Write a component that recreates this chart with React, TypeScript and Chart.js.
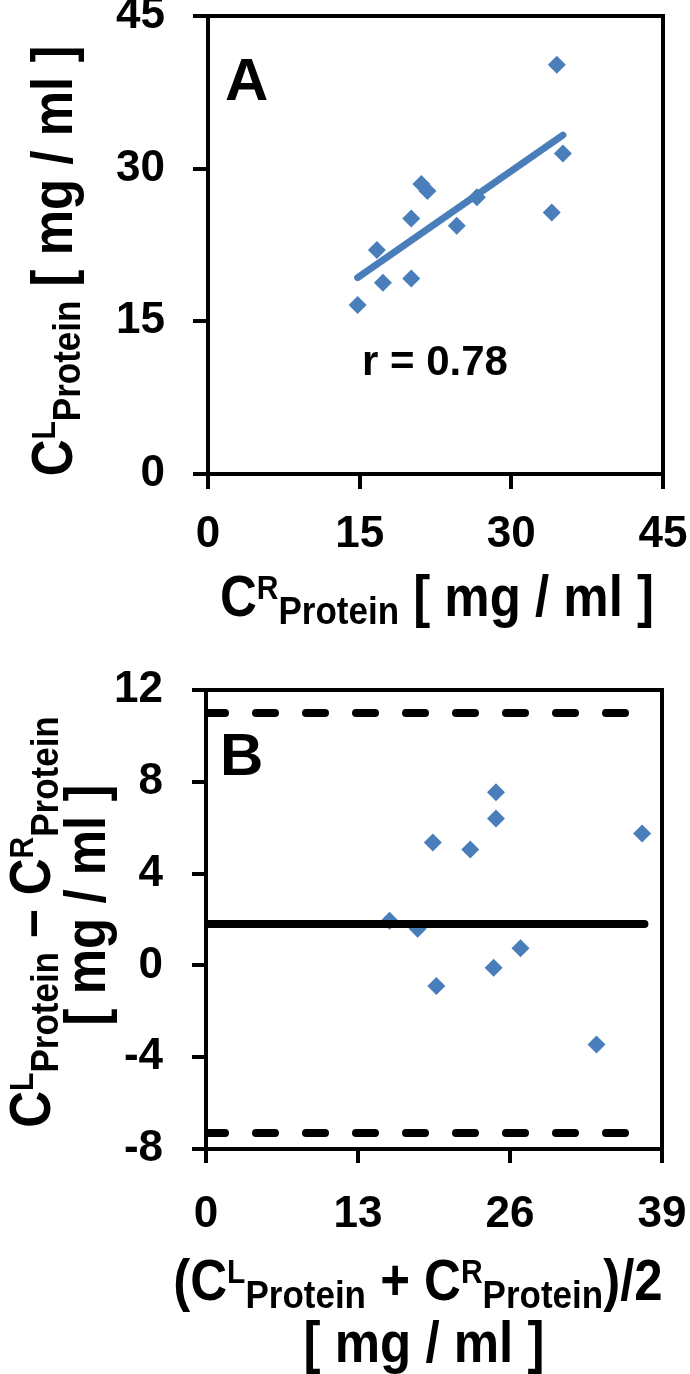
import React, { useEffect, useRef } from 'react';
import { Chart, registerables } from 'chart.js';

Chart.register(...registerables);

const BLUE = '#4A7EBB';
const FONT = '"Liberation Sans", Arial, Helvetica, sans-serif';

// ---------- Panel A data ----------
const crProtein = [14.8, 17.3, 20.1, 16.7, 20.1, 21.1, 21.7, 24.6, 26.6, 34.0, 35.1, 34.5];
const clProtein = [16.6, 18.8, 19.2, 22.0, 25.1, 28.5, 27.8, 24.4, 27.2, 25.7, 31.5, 40.2];
const fitX = [14.8, 35.1];
const fitY = [19.3, 33.3];
const aXTicks = [0, 15, 30, 45];
const aYTicks = [0, 15, 30, 45];
const rLabel = 'r = 0.78';

// ---------- Panel B data ----------
const meanValues = [15.7, 18.1, 19.4, 19.7, 22.6, 24.8, 24.8, 24.6, 26.9, 33.4, 37.3];
const diffValues = [1.95, 1.6, 5.35, -0.9, 5.05, 7.55, 6.4, -0.1, 0.75, -3.45, 5.75];
const biasValue = 1.8;
const upperLoA = 11.0;
const lowerLoA = -7.3;
const refLineX = [0, 37.5];
const bXTicks = [0, 13, 26, 39];
const bYTicks = [-8, -4, 0, 4, 8, 12];

type Seg = { t: string; s: number; dy?: number };

function drawRich(ctx: CanvasRenderingContext2D, segs: Seg[], cx: number, by: number, angle: number, k: number) {
  ctx.save();
  ctx.translate(cx, by);
  ctx.rotate(angle);
  ctx.scale(1, k);
  ctx.fillStyle = '#000';
  ctx.textBaseline = 'alphabetic';
  ctx.textAlign = 'left';
  let w = 0;
  for (const sg of segs) {
    ctx.font = `bold ${sg.s}px ${FONT}`;
    w += ctx.measureText(sg.t).width;
  }
  let x = -w / 2;
  for (const sg of segs) {
    ctx.font = `bold ${sg.s}px ${FONT}`;
    ctx.fillText(sg.t, x, sg.dy || 0);
    x += ctx.measureText(sg.t).width;
  }
  ctx.restore();
}

const M = 51;
const SUP = 30;
const SUB = 35;
const SUPDY = -15;
const SUBDY = 7;

function axis(min: number, max: number, ticks: number[], tickLen: number, pad: number, size: number, horizontal: boolean) {
  return {
    type: 'linear' as const,
    min,
    max,
    afterBuildTicks: (s: any) => {
      s.ticks = ticks.map((v) => ({ value: v }));
    },
    ticks: {
      color: '#000',
      font: { family: FONT, size: 44, weight: 'bold' as const },
      padding: pad,
      autoSkip: false,
      maxRotation: 0,
      minRotation: 0,
      callback: (v: any) => String(v),
    },
    grid: {
      display: true,
      drawOnChartArea: false,
      drawTicks: true,
      tickLength: tickLen,
      color: '#000',
      lineWidth: 4,
    },
    border: { display: true, color: '#000', width: 4 },
    afterFit: (s: any) => {
      if (horizontal) s.height = size;
      else s.width = size;
      s.paddingLeft = 0;
      s.paddingRight = 0;
      s.paddingTop = 0;
      s.paddingBottom = 0;
    },
  };
}

function frame(ctx: CanvasRenderingContext2D, chart: any) {
  const a = chart.chartArea;
  ctx.save();
  ctx.strokeStyle = '#000';
  ctx.lineWidth = 4;
  ctx.strokeRect(a.left, a.top, a.right - a.left, a.bottom - a.top);
  ctx.restore();
}

function plainText(ctx: CanvasRenderingContext2D, t: string, x: number, y: number, size: number, align: CanvasTextAlign) {
  ctx.save();
  ctx.fillStyle = '#000';
  ctx.font = `bold ${size}px ${FONT}`;
  ctx.textAlign = align;
  ctx.textBaseline = 'alphabetic';
  ctx.fillText(t, x, y);
  ctx.restore();
}

export default function App() {
  const refA = useRef<HTMLCanvasElement>(null);
  const refB = useRef<HTMLCanvasElement>(null);

  useEffect(() => {
    const textA = {
      id: 'textA',
      afterDraw(chart: any) {
        const ctx = chart.ctx as CanvasRenderingContext2D;
        frame(ctx, chart);
        plainText(ctx, 'A', 225, 100, 60, 'left');
        plainText(ctx, rLabel, 435, 375, 42, 'center');
        drawRich(
          ctx,
          [
            { t: 'C', s: M },
            { t: 'R', s: SUP, dy: SUPDY },
            { t: 'Protein', s: SUB, dy: SUBDY },
            { t: ' [ mg / ml ]', s: M },
          ],
          437,
          616,
          0,
          1.12
        );
        drawRich(
          ctx,
          [
            { t: 'C', s: M },
            { t: 'L', s: SUP, dy: SUPDY },
            { t: 'Protein', s: SUB, dy: SUBDY },
            { t: ' [ mg / ml ]', s: M },
          ],
          72,
          261,
          -Math.PI / 2,
          1.12
        );
      },
    };

    const textB = {
      id: 'textB',
      afterDraw(chart: any) {
        const ctx = chart.ctx as CanvasRenderingContext2D;
        frame(ctx, chart);
        plainText(ctx, 'B', 220, 135, 60, 'left');
        drawRich(
          ctx,
          [
            { t: 'C', s: M },
            { t: 'L', s: SUP, dy: SUPDY },
            { t: 'Protein', s: SUB, dy: SUBDY },
            { t: ' \u2013 ', s: M },
            { t: 'C', s: M },
            { t: 'R', s: SUP, dy: SUPDY },
            { t: 'Protein', s: SUB, dy: SUBDY },
          ],
          50,
          282,
          -Math.PI / 2,
          1.12
        );
        drawRich(ctx, [{ t: '[ mg / ml ]', s: M }], 105, 265, -Math.PI / 2, 1.12);
        drawRich(
          ctx,
          [
            { t: '(C', s: M },
            { t: 'L', s: SUP, dy: SUPDY },
            { t: 'Protein', s: SUB, dy: SUBDY },
            { t: ' + C', s: M },
            { t: 'R', s: SUP, dy: SUPDY },
            { t: 'Protein', s: SUB, dy: SUBDY },
            { t: ')/2', s: M },
          ],
          418,
          660,
          0,
          1.12
        );
        drawRich(ctx, [{ t: '[ mg / ml ]', s: M }], 424, 722, 0, 1.12);
      },
    };

    const chartA = new Chart(refA.current as HTMLCanvasElement, {
      type: 'scatter',
      data: {
        datasets: [
          {
            type: 'line',
            data: fitX.map((x, i) => ({ x, y: fitY[i] })),
            borderColor: BLUE,
            borderWidth: 7,
            borderCapStyle: 'round',
            pointRadius: 0,
            fill: false,
            tension: 0,
          } as any,
          {
            type: 'scatter',
            data: crProtein.map((x, i) => ({ x, y: clProtein[i] })),
            pointStyle: 'rectRot',
            pointRadius: 9,
            backgroundColor: BLUE,
            borderColor: BLUE,
            borderWidth: 0,
          } as any,
        ],
      },
      options: {
        responsive: false,
        animation: false,
        events: [],
        layout: { padding: { left: 0, top: 16, right: 27, bottom: 66 } },
        plugins: { legend: { display: false }, tooltip: { enabled: false } },
        scales: {
          x: axis(0, 45, aXTicks, 15, 19, 100, true),
          y: axis(0, 45, aYTicks, 15, 28, 208, false),
        },
      } as any,
      plugins: [textA],
    });

    const chartB = new Chart(refB.current as HTMLCanvasElement, {
      type: 'scatter',
      data: {
        datasets: [
          {
            type: 'line',
            data: refLineX.map((x) => ({ x, y: biasValue })),
            borderColor: '#000',
            borderWidth: 8,
            borderCapStyle: 'round',
            pointRadius: 0,
            fill: false,
          } as any,
          {
            type: 'line',
            data: refLineX.map((x) => ({ x, y: upperLoA })),
            borderColor: '#000',
            borderWidth: 8,
            borderCapStyle: 'round',
            borderDash: [19, 31],
            pointRadius: 0,
            fill: false,
          } as any,
          {
            type: 'line',
            data: refLineX.map((x) => ({ x, y: lowerLoA })),
            borderColor: '#000',
            borderWidth: 8,
            borderCapStyle: 'round',
            borderDash: [19, 31],
            pointRadius: 0,
            fill: false,
          } as any,
          {
            type: 'scatter',
            data: meanValues.map((x, i) => ({ x, y: diffValues[i] })),
            pointStyle: 'rectRot',
            pointRadius: 9,
            backgroundColor: BLUE,
            borderColor: BLUE,
            borderWidth: 0,
          } as any,
        ],
      },
      options: {
        responsive: false,
        animation: false,
        events: [],
        layout: { padding: { left: 0, top: 50, right: 28, bottom: 125 } },
        plugins: { legend: { display: false }, tooltip: { enabled: false } },
        scales: {
          x: axis(0, 39, bXTicks, 14, 25, 100, true),
          y: axis(-8, 12, bYTicks, 14, 29, 206, false),
        },
      } as any,
      plugins: [textB],
    });

    return () => {
      chartA.destroy();
      chartB.destroy();
    };
  }, []);

  return (
    <div style={{ position: 'absolute', left: 0, top: 0, width: 690, height: 1374, background: '#fff' }}>
      <canvas ref={refA} width={690} height={640} style={{ position: 'absolute', left: 0, top: 0 }} />
      <canvas ref={refB} width={690} height={734} style={{ position: 'absolute', left: 0, top: 640 }} />
    </div>
  );
}
